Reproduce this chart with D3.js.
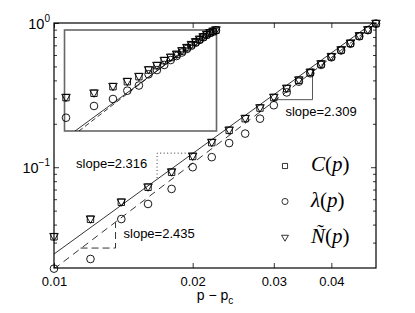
<!DOCTYPE html>
<html>
<head>
<meta charset="utf-8">
<script src="https://cdn.jsdelivr.net/npm/d3@7"></script>
<style>
body { margin: 0; background: #fff; }
svg text { font-family: "Liberation Sans", Arial, sans-serif; }
</style>
</head>
<body>
<div id="chart"></div>
<script>
"use strict";

// main panel: p - pc
var pValues = [0.010, 0.012, 0.014, 0.016, 0.018, 0.020, 0.022, 0.024, 0.026, 0.028, 0.030,
               0.032, 0.034, 0.036, 0.038, 0.040, 0.042, 0.044, 0.046, 0.048, 0.050];
var cValues = [0.0329, 0.0435, 0.0571, 0.0726, 0.0923, 0.1187, 0.148, 0.180, 0.217, 0.257, 0.304,
               0.351, 0.401, 0.454, 0.519, 0.583, 0.649, 0.722, 0.812, 0.894, 0.99];
var lambdaValues = [0.0198, 0.0231, 0.0437, 0.0556, 0.0707, 0.100, 0.1174, 0.147, 0.171, 0.217, 0.269,
                    0.330, 0.392, 0.448, 0.512, 0.578, 0.645, 0.718, 0.808, 0.892, 0.99];
var nValues = [0.0329, 0.0435, 0.0571, 0.0726, 0.0923, 0.1187, 0.148, 0.180, 0.217, 0.257, 0.304,
               0.351, 0.401, 0.454, 0.519, 0.583, 0.649, 0.722, 0.812, 0.894, 0.99];

// inset: wider range
var insetP = [0.005, 0.008, 0.011, 0.014, 0.017, 0.020, 0.023, 0.026, 0.029, 0.032,
              0.035, 0.038, 0.041, 0.044, 0.047, 0.050, 0.053, 0.056, 0.059, 0.062];
var insetC = [0.0292, 0.0368, 0.0522, 0.068, 0.0886, 0.126, 0.159, 0.207, 0.245, 0.287,
              0.345, 0.41, 0.48, 0.556, 0.635, 0.725, 0.819, 0.90, 0.97, 1.04];
var insetLambda = [0.0101, 0.0188, 0.0272, 0.0423, 0.0556, 0.1007, 0.126, 0.165, 0.214, 0.265,
                   0.319, 0.384, 0.455, 0.533, 0.619, 0.71, 0.806, 0.90, 0.96, 1.03];
var insetN = [0.0292, 0.0368, 0.0522, 0.068, 0.0886, 0.126, 0.159, 0.207, 0.245, 0.287,
              0.345, 0.41, 0.48, 0.556, 0.635, 0.725, 0.819, 0.90, 0.97, 1.04];

// power-law fits: [anchor p, anchor value, slope]
var fitSolid = [0.01, 0.025, 2.316];
var fitDashed = [0.01, 0.0197, 2.435];
var insetFitSolid = [0.00582, 0.005, 2.316];
var insetFitDashed = [0.00622, 0.005, 2.435];

// slope triangles
var tri2309 = [[0.0298, 0.294], [0.0364, 0.294], [0.0364, 0.484]];
var tri2316 = [[0.01674, 0.0841], [0.01674, 0.1252], [0.0200, 0.1252]];
var tri2435 = [[0.01142, 0.0275], [0.0136, 0.0275], [0.0136, 0.0414]];

var xTicks = [0.01, 0.02, 0.03, 0.04];
var yTicks = [0.1, 1];
var yMinor = [0.03, 0.04, 0.05, 0.06, 0.07, 0.08, 0.09, 0.2, 0.3, 0.4, 0.5, 0.6, 0.7, 0.8, 0.9];
var yTickExp = {"0.1": "\u22121", "1": "0"};

var LogLogChart = (function () {
    function LogLogChart(selector, width, height) {
        this.selector = selector;
        this.width = width;
        this.height = height;
        this.box = {left: 54, right: 376, top: 23, bottom: 268};
        this.inset = {left: 64.5, right: 216.5, top: 30, bottom: 131};
    }

    var triPath = "M-4.3,-3.4L4.3,-3.4L0,4Z";

    function drawMarkers(g, xs, ys, xScale, yScale, kind) {
        var pts = xs.map(function (d, i) { return [d, ys[i]]; });
        var sel = g.append("g").selectAll("path").data(pts).enter().append("path")
            .attr("fill", "none")
            .attr("stroke", "#000")
            .attr("stroke-width", 0.9)
            .attr("transform", function (d) { return "translate(" + xScale(d[0]) + "," + yScale(d[1]) + ")"; });
        if (kind === "square") sel.attr("d", "M-3.2,-3.2H3.2V3.2H-3.2Z");
        else if (kind === "circle") sel.attr("d", d3.symbol(d3.symbolCircle, 46)());
        else sel.attr("d", triPath);
    }

    function fitLine(g, fit, xScale, yScale, dash) {
        var xd = xScale.domain();
        var pts = [xd[0], xd[1]].map(function (p) {
            return [p, fit[1] * Math.pow(p / fit[0], fit[2])];
        });
        g.append("path")
            .attr("d", d3.line().x(function (d) { return xScale(d[0]); }).y(function (d) { return yScale(d[1]); })(pts))
            .attr("fill", "none")
            .attr("stroke", "#000")
            .attr("stroke-width", 0.8)
            .attr("stroke-dasharray", dash);
    }

    LogLogChart.prototype.create = function () {
        var b = this.box, ib = this.inset;
        var svg = d3.select(this.selector).append("svg")
            .attr("width", this.width)
            .attr("height", this.height)
            .style("background", "#fff");

        var x = d3.scaleLog().domain([0.01, 0.05]).range([b.left, b.right]);
        var y = d3.scaleLog().domain([0.02, 1]).range([b.bottom, b.top]);

        var defs = svg.append("defs");
        defs.append("clipPath").attr("id", "clipMain").append("rect")
            .attr("x", b.left).attr("y", b.top)
            .attr("width", b.right - b.left).attr("height", b.bottom - b.top);
        defs.append("clipPath").attr("id", "clipInset").append("rect")
            .attr("x", ib.left).attr("y", ib.top)
            .attr("width", ib.right - ib.left).attr("height", ib.bottom - ib.top);

        // axes, ticks inside the box
        var axes = [
            [d3.axisBottom(x).tickValues(xTicks).tickFormat(d3.format(".2f")), "translate(0," + b.bottom + ")"],
            [d3.axisTop(x).tickValues(xTicks).tickFormat(""), "translate(0," + b.top + ")"],
            [d3.axisLeft(y).tickValues(yTicks), "translate(" + b.left + ",0)"],
            [d3.axisRight(y).tickValues(yTicks).tickFormat(""), "translate(" + b.right + ",0)"],
            [d3.axisLeft(y).tickValues(yMinor).tickFormat("").tickSizeInner(-3), "translate(" + b.left + ",0)"],
            [d3.axisRight(y).tickValues(yMinor).tickFormat("").tickSizeInner(-3), "translate(" + b.right + ",0)"]
        ];
        var axisGroups = axes.map(function (a) {
            if (a[0].tickSizeInner() === 6) a[0].tickSizeInner(-5);
            var g = svg.append("g")
                .attr("transform", a[1])
                .call(a[0].tickSizeOuter(0).tickPadding(9));
            g.select(".domain").remove();
            g.selectAll("line").attr("stroke", "#000").attr("stroke-width", 0.8);
            g.attr("font-family", null).attr("font-size", 13);
            return g;
        });
        axisGroups[0].selectAll("text").attr("fill", "#000").attr("dy", "0.71em");

        var yLab = axisGroups[2].selectAll("text")
            .attr("fill", "#000")
            .attr("x", -4)
            .attr("dy", 5.5)
            .attr("font-size", 14.5)
            .text("");
        yLab.append("tspan").text("10");
        yLab.append("tspan").attr("dy", -7).attr("font-size", 10)
            .text(function (d) { return yTickExp[String(d)]; });

        svg.append("rect")
            .attr("x", b.left).attr("y", b.top)
            .attr("width", b.right - b.left).attr("height", b.bottom - b.top)
            .attr("fill", "none").attr("stroke", "#000").attr("stroke-width", 1.2);

        // x label
        var xl = svg.append("text")
            .attr("x", (b.left + b.right) / 2)
            .attr("y", 300)
            .attr("text-anchor", "middle")
            .attr("font-size", 14)
            .text("p \u2212 p");
        xl.append("tspan").attr("dy", 4).attr("font-size", 10).text("c");

        // fit lines
        var lines = svg.append("g").attr("clip-path", "url(#clipMain)");
        fitLine(lines, fitSolid, x, y, null);
        fitLine(lines, fitDashed, x, y, "7,5");

        // slope triangles
        var lf = d3.line().x(function (d) { return x(d[0]); }).y(function (d) { return y(d[1]); });
        svg.append("path").attr("d", lf(tri2309)).attr("fill", "none")
            .attr("stroke", "#555").attr("stroke-width", 1);
        svg.append("path").attr("d", lf(tri2316)).attr("fill", "none")
            .attr("stroke", "#000").attr("stroke-width", 0.8).attr("stroke-dasharray", "1,2.5");
        svg.append("path").attr("d", lf(tri2435)).attr("fill", "none")
            .attr("stroke", "#000").attr("stroke-width", 0.8).attr("stroke-dasharray", "7,4");

        var slopeText = [
            ["slope=2.309", x(tri2309[0][0]) + 13, y(tri2309[0][1]) + 16],
            ["slope=2.316", x(tri2316[1][0]) - 81, y(tri2316[1][1]) + 14.5],
            ["slope=2.435", x(tri2435[2][0]) + 8, y(tri2435[2][1]) + 16]
        ];
        svg.append("g").selectAll("text").data(slopeText).enter().append("text")
            .attr("x", function (d) { return d[1]; })
            .attr("y", function (d) { return d[2]; })
            .attr("font-size", 13)
            .text(function (d) { return d[0]; });

        // data
        var marks = svg.append("g");
        drawMarkers(marks, pValues, cValues, x, y, "square");
        drawMarkers(marks, pValues, lambdaValues, x, y, "circle");
        drawMarkers(marks, pValues, nValues, x, y, "triangle");

        // inset
        var ix = d3.scaleLog().domain([0.005, 0.062]).range([66, 216]);
        var iy = d3.scaleLog().domain([0.005, 1.05]).range([ib.bottom, ib.top]);
        svg.append("rect")
            .attr("x", ib.left).attr("y", ib.top)
            .attr("width", ib.right - ib.left).attr("height", ib.bottom - ib.top)
            .attr("fill", "none").attr("stroke", "#666").attr("stroke-width", 1.6);
        var ilines = svg.append("g").attr("clip-path", "url(#clipInset)");
        fitLine(ilines, insetFitSolid, ix, iy, null);
        fitLine(ilines, insetFitDashed, ix, iy, "5,3");
        var imarks = svg.append("g");
        drawMarkers(imarks, insetP, insetC, ix, iy, "square");
        drawMarkers(imarks, insetP, insetLambda, ix, iy, "circle");
        drawMarkers(imarks, insetP, insetN, ix, iy, "triangle");

        // legend
        var legendItems = [
            ["square", [["i", "C"], ["n", "("], ["i", "p"], ["n", ")"]]],
            ["circle", [["i", "\u03bb"], ["n", "("], ["i", "p"], ["n", ")"]]],
            ["triangle", [["i", "\u00d1"], ["n", "("], ["i", "p"], ["n", ")"]]]
        ];
        var legendY = [166, 201.5, 238];
        var legend = svg.append("g");
        legendItems.forEach(function (item, i) {
            var m = legend.append("path")
                .attr("transform", "translate(285," + legendY[i] + ") scale(0.8)")
                .attr("fill", "none").attr("stroke", "#000").attr("stroke-width", 1);
            if (item[0] === "square") m.attr("d", "M-3.2,-3.2H3.2V3.2H-3.2Z");
            else if (item[0] === "circle") m.attr("d", d3.symbol(d3.symbolCircle, 46)());
            else m.attr("d", triPath);
            var t = legend.append("text")
                .attr("x", 311)
                .attr("y", legendY[i] + 5)
                .attr("font-size", 21)
                .style("font-family", "'Liberation Serif', 'Times New Roman', serif");
            item[1].forEach(function (part) {
                t.append("tspan")
                    .attr("font-style", part[0] === "i" ? "italic" : "normal")
                    .text(part[1]);
            });
        });
    };
    return LogLogChart;
}());

new LogLogChart("#chart", 415, 313).create();
</script>
</body>
</html>
